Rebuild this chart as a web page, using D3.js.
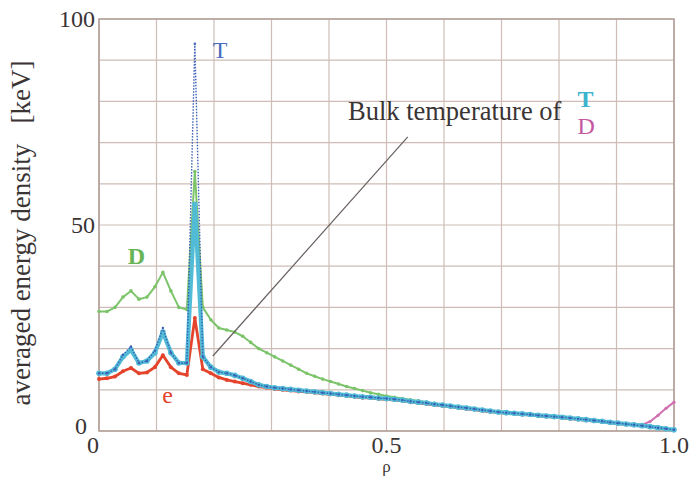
<!DOCTYPE html>
<html>
<head>
<meta charset="utf-8">
<style>
  body { margin: 0; background: #fff; }
  text { font-family: "Liberation Serif", "Times New Roman", "DejaVu Serif", serif; }
</style>
</head>
<body>
<svg id="chart"></svg>
<script src="https://d3js.org/d3.v7.min.js"></script>
<script>
const width = 693, height = 478;
const margin = {top: 19, right: 19, bottom: 47, left: 99};
const serif = '"Liberation Serif", "Times New Roman", serif';

// radial grid, 72 intervals across rho = 0..1
const rho = d3.range(73).map(i => i / 72);

const dTotal = [29, 29, 30, 32.5, 34, 32, 32.5, 35, 38.5, 34, 30, 29.5, 63, 30, 27, 25,
  24.5, 24, 23, 21.5, 20, 19, 18, 17, 16, 15, 14, 13.3, 12.6, 12, 11.4, 10.8, 10.3,
  9.8, 9.3, 8.9, 8.5, 8.2, 7.9, 7.6, 7.3, 7.0, 6.7, 6.4, 6.05, 5.8, 5.6, 5.35, 5.1,
  4.85, 4.6, 4.45, 4.3, 4.15, 4.0, 3.8, 3.65, 3.5, 3.35, 3.15, 2.95, 2.75, 2.55,
  2.35, 2.1, 1.9, 1.7, 1.5, 1.3, 1.05, 0.8, 0.55, 0.3];

const tBulk = [14, 14, 15, 18, 19.7, 16.5, 17, 19, 24, 19, 16.5, 16.5, 55, 18, 15.5,
  14.3, 14, 13.5, 12.8, 12, 11.2, 10.8, 10.5, 10.3, 10.1, 9.9, 9.7, 9.5, 9.3, 9.1,
  8.9, 8.7, 8.5, 8.3, 8.2, 8.0, 7.9, 7.7, 7.5, 7.2, 7.0, 6.8, 6.5, 6.3, 6.05, 5.8,
  5.6, 5.35, 5.1, 4.85, 4.6, 4.45, 4.3, 4.15, 4.0, 3.8, 3.65, 3.5, 3.35, 3.15, 2.95,
  2.75, 2.55, 2.35, 2.1, 1.9, 1.7, 1.5, 1.3, 1.05, 0.8, 0.55, 0.3];

const tTotal = [14, 14, 15, 18.5, 20.5, 16.5, 17, 19.5, 25, 19, 16.5, 16.5, 94, 18, 15.5,
  14.3, 14, 13.5, 12.8, 12, 11.2, 10.8, 10.5, 10.3, 10.1, 9.9, 9.7, 9.5, 9.3, 9.1,
  8.9, 8.7, 8.5, 8.3, 8.2, 8.0, 7.9, 7.7, 7.5, 7.2, 7.0, 6.8, 6.5, 6.3, 6.05, 5.8,
  5.6, 5.35, 5.1, 4.85, 4.6, 4.45, 4.3, 4.15, 4.0, 3.8, 3.65, 3.5, 3.35, 3.15, 2.95,
  2.75, 2.55, 2.35, 2.1, 1.9, 1.7, 1.5, 1.3, 1.05, 0.8, 0.55, 0.3];

const eTotal = [12.6, 12.8, 13.2, 14.5, 15.3, 14, 14.2, 15.5, 18.4, 15.5, 14, 13.6, 27.4,
  15, 14, 13, 12.4, 12, 11.6, 11.2, 10.8, 10.5, 10.2, 10, 9.8, 9.6, 9.5, 9.3, 9.1,
  8.9, 8.7, 8.5, 8.3, 8.1, 8.0, 7.8, 7.7, 7.5, 7.3, 7.0, 6.8, 6.6, 6.3, 6.1, 5.9,
  5.6, 5.4, 5.2, 4.9, 4.7, 4.5, 4.3, 4.2, 4.0, 3.9, 3.7, 3.5, 3.4, 3.2, 3.0, 2.8,
  2.6, 2.4, 2.2, 2.0, 1.8, 1.6, 1.4, 1.2, 1.0, 0.7, 0.5, 0.2];

// bulk D only shows where it leaves the T curve at the edge
const dBulkRho = rho.slice(60);
const dBulk = [2.95, 2.75, 2.55, 2.35, 2.1, 1.9, 1.7, 1.5, 1.5, 2.3, 3.8, 5.5, 7.0];

const xTicks = [0, 0.5, 1.0];
const yTicks = [0, 50, 100];

// annotation pointer, in data units
const pointer = [[0.198, 18.2], [0.537, 71.4]];

const svg = d3.select('#chart').attr('width', width).attr('height', height)
    .attr('font-family', serif);

const x = d3.scaleLinear().domain([0, 1]).range([margin.left, width - margin.right]);
const y = d3.scaleLinear().domain([0, 100]).range([height - margin.bottom, margin.top]);

// grid
const grid = svg.append('g');
grid.selectAll('.vx').data(d3.range(0, 1.0001, 0.1)).enter().append('line')
    .attr('x1', d => x(d)).attr('x2', d => x(d))
    .attr('y1', y(0)).attr('y2', y(100))
    .attr('stroke', '#cdbdb6').attr('stroke-width', 1.2);
grid.selectAll('.hy').data(d3.range(0, 100.1, 10)).enter().append('line')
    .attr('y1', d => y(d)).attr('y2', d => y(d))
    .attr('x1', x(0)).attr('x2', x(1))
    .attr('stroke', '#cdbdb6').attr('stroke-width', 1.2);
svg.append('rect')
    .attr('x', x(0)).attr('y', y(100))
    .attr('width', x(1) - x(0)).attr('height', y(0) - y(100))
    .attr('fill', 'none').attr('stroke', '#b09e96').attr('stroke-width', 1.5);

// tick labels
svg.selectAll('.yt').data(yTicks).enter().append('text')
    .attr('x', d => d === 0 ? x(0) - 12 : x(0) - 4)
    .attr('y', d => d === 0 ? y(d) + 3 : y(d) + 8)
    .attr('text-anchor', 'end').attr('font-size', 24).attr('fill', '#3a3434')
    .text(d => d);
svg.selectAll('.xt').data(xTicks).enter().append('text')
    .attr('x', d => x(d)).attr('y', y(0) + 22)
    .attr('text-anchor', d => d === 0 ? 'end' : 'middle')
    .attr('font-size', 24).attr('fill', '#3a3434')
    .text(d => d === 0 ? '0' : d.toFixed(1));
svg.append('text')
    .attr('x', x(0.5)).attr('y', y(0) + 41)
    .attr('text-anchor', 'middle').attr('font-size', 17).attr('fill', '#3a3434')
    .text('ρ');
svg.append('text')
    .attr('transform', `translate(30,233) rotate(-90)`)
    .attr('text-anchor', 'middle').attr('font-size', 27).attr('fill', '#3a3434')
    .attr('xml:space', 'preserve')
    .text('averaged energy density   [keV]');

function series(xs, ys, color, w, r, dash) {
  const pts = xs.map((d, i) => [d, ys[i]]);
  const line = d3.line().x(d => x(d[0])).y(d => y(d[1]));
  const g = svg.append('g');
  g.append('path').datum(pts)
      .attr('d', line).attr('fill', 'none')
      .attr('stroke', color).attr('stroke-width', w)
      .attr('stroke-linejoin', 'round')
      .attr('stroke-dasharray', dash || null);
  g.selectAll('circle').data(pts).enter().append('circle')
      .attr('cx', d => x(d[0])).attr('cy', d => y(d[1]))
      .attr('r', r).attr('fill', color);
}

series(rho, dTotal, '#7cc46a', 2, 1.8);
series(dBulkRho, dBulk, '#d070b0', 2, 1.6);
series(rho, eTotal, '#e4432c', 2.8, 2);
series(rho, tBulk, '#52bcd6', 4.2, 2.8);
series(rho, tTotal, '#3a5fb5', 1.4, 1.2, '1.5,1.5');

// annotation
svg.append('line')
    .attr('x1', x(pointer[0][0])).attr('y1', y(pointer[0][1]))
    .attr('x2', x(pointer[1][0])).attr('y2', y(pointer[1][1]))
    .attr('stroke', '#6a6060').attr('stroke-width', 1.2);
svg.append('text')
    .attr('x', x(0.433)).attr('y', y(75.5))
    .attr('font-size', 26.5).attr('fill', '#3a3434')
    .text('Bulk temperature of');
svg.append('text')
    .attr('x', x(0.832)).attr('y', y(78.6))
    .attr('font-size', 24).attr('font-weight', 'bold').attr('fill', '#3cb4cc')
    .text('T');
svg.append('text')
    .attr('x', x(0.832)).attr('y', y(72))
    .attr('font-size', 24).attr('fill', '#c458a0')
    .text('D');

// curve labels
svg.append('text').attr('x', x(0.198)).attr('y', y(90.5))
    .attr('font-size', 24).attr('fill', '#4a6cbc').text('T');
svg.append('text').attr('x', x(0.05)).attr('y', y(40.5))
    .attr('font-size', 24).attr('font-weight', 'bold').attr('fill', '#66b456').text('D');
svg.append('text').attr('x', x(0.11)).attr('y', y(6.8))
    .attr('font-size', 24).attr('fill', '#e4432c').text('e');
</script>
</body>
</html>
